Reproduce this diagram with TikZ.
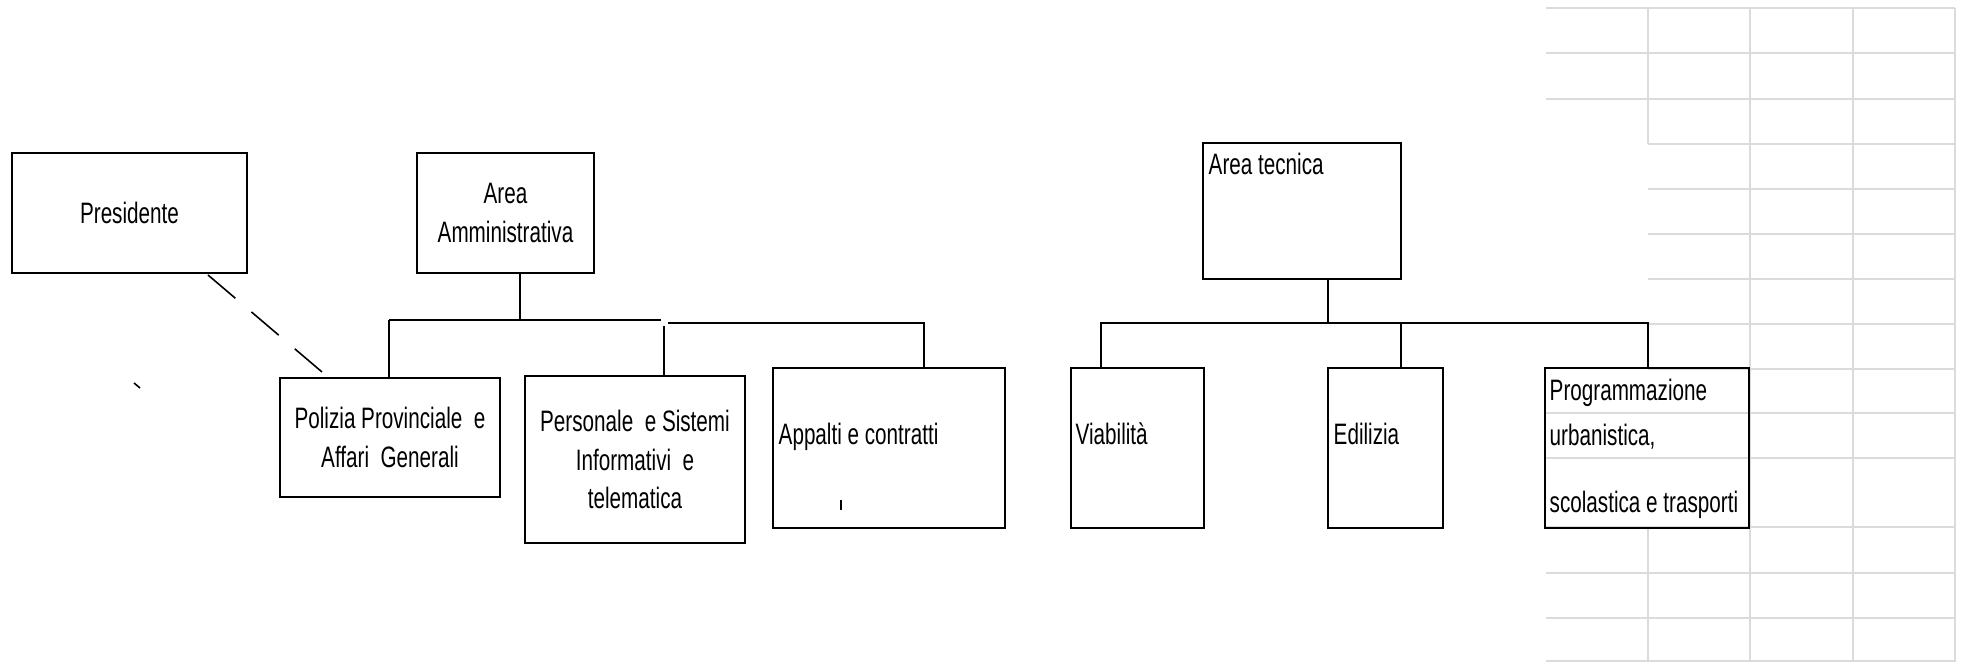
\documentclass[tikz,border=0pt]{standalone}
\usepackage{fontspec}
\setmainfont{Liberation Sans}[FakeStretch=0.7]

\begin{document}
\begin{tikzpicture}[x=0.01cm, y=-0.01cm,
  every node/.style={font=\fontsize{8.4}{11}\selectfont, inner sep=0pt},
  unit/.style={draw, line width=0.45pt, align=center},
  bigunit/.style={draw, line width=0.8pt},
  tag/.style={anchor=base west, align=left},
  link/.style={line width=0.45pt},
  biglink/.style={line width=0.8pt},
  cell/.style={draw=gray!28, line width=0.75pt}]
\useasboundingbox (0,0) rectangle (1966,662);

% sheet grid behind the chart
\draw[cell] (1546,8) -- (1955,8) (1546,53) -- (1955,53) (1546,99) -- (1955,99);
\draw[cell] (1648,144) -- (1955,144) (1648,189) -- (1955,189) (1648,234) -- (1955,234)
  (1648,279) -- (1955,279) (1648,324) -- (1955,324) (1648,369) -- (1955,369);
\draw[cell] (1546,413) -- (1955,413) (1546,458) -- (1955,458) (1546,527) -- (1955,527)
  (1546,573) -- (1955,573) (1546,618) -- (1955,618) (1546,661) -- (1955,661);
\draw[cell] (1648,8) -- (1648,144) (1648,528) -- (1648,662) (1750,8) -- (1750,662)
  (1853,8) -- (1853,662) (1955,8) -- (1955,662);

% boxes
\node[unit, minimum width=2.35cm, minimum height=1.2cm] (pres) at (129.5,213) {Presidente};
\node[unit, minimum width=1.77cm, minimum height=1.2cm] (aa) at (505.5,213) {Area\\Amministrativa};
\node[unit, minimum width=2.2cm, minimum height=1.19cm] (pol) at (390,437.5) {Polizia Provinciale\ \ e\\Affari\ \ Generali};
\node[unit, minimum width=2.2cm, minimum height=1.67cm] (pers) at (635,459.5) {Personale\ \ e Sistemi\\Informativi\ \ e\\telematica};
\node[bigunit, minimum width=2.32cm, minimum height=1.6cm] (app) at (889,448) {};
\node[bigunit, minimum width=1.98cm, minimum height=1.36cm] (at) at (1302,211) {};
\node[bigunit, minimum width=1.33cm, minimum height=1.6cm] (via) at (1137.5,448) {};
\node[bigunit, minimum width=1.15cm, minimum height=1.6cm] (edi) at (1385.5,448) {};
\node[bigunit, minimum width=2.04cm, minimum height=1.6cm] (prog) at (1647,448) {};

% texts set at the left
\node[tag] (appt) at (778,445) {Appalti e contratti};
\node[tag] (att) at (1208,175) {Area tecnica};
\node[tag] (viat) at (1075,445) {Viabilità};
\node[tag] (edit) at (1333,445) {Edilizia};
\node[tag] (progt) at (1549,513) {Programmazione\\[1.8pt]urbanistica,\\[8.3pt]scolastica e trasporti};

% administrative area
\coordinate (aabus) at (520,320);
\coordinate (aabusL) at (389,320);
\coordinate (aabusR) at (661,320);
\coordinate (persbus) at (664,326);
\coordinate (appbusL) at (668,323);
\coordinate (appbusR) at (924,323);
\draw[link] (aabus |- aa.south) -- (aabus);
\draw[link] (aabusL) -- (aabusR);
\draw[link] (aabusL) -- (aabusL |- pol.north);
\draw[link] (persbus) -- (persbus |- pers.north);
\draw[biglink] (appbusL) -- (appbusR) -- (appbusR |- app.north);

% president
\coordinate (dashA) at (208,275);
\coordinate (dashB) at (322,372);
\draw[link, dash pattern=on 10.2pt off 6pt] (dashA) -- (dashB);
\draw[link] (134,383) -- (140,388);
\draw[line width=0.6pt] (841,500) -- (841,510);

% technical area
\coordinate (atbus) at (1328,323);
\coordinate (atbusL) at (1101,323);
\coordinate (atbusR) at (1648,323);
\coordinate (edibus) at (1401,323);
\draw[biglink] (atbus |- at.south) -- (atbus);
\draw[biglink] (atbusL |- via.north) -- (atbusL) -- (atbusR) -- (atbusR |- prog.north);
\draw[biglink] (edibus) -- (edibus |- edi.north);
\end{tikzpicture}
\end{document}
